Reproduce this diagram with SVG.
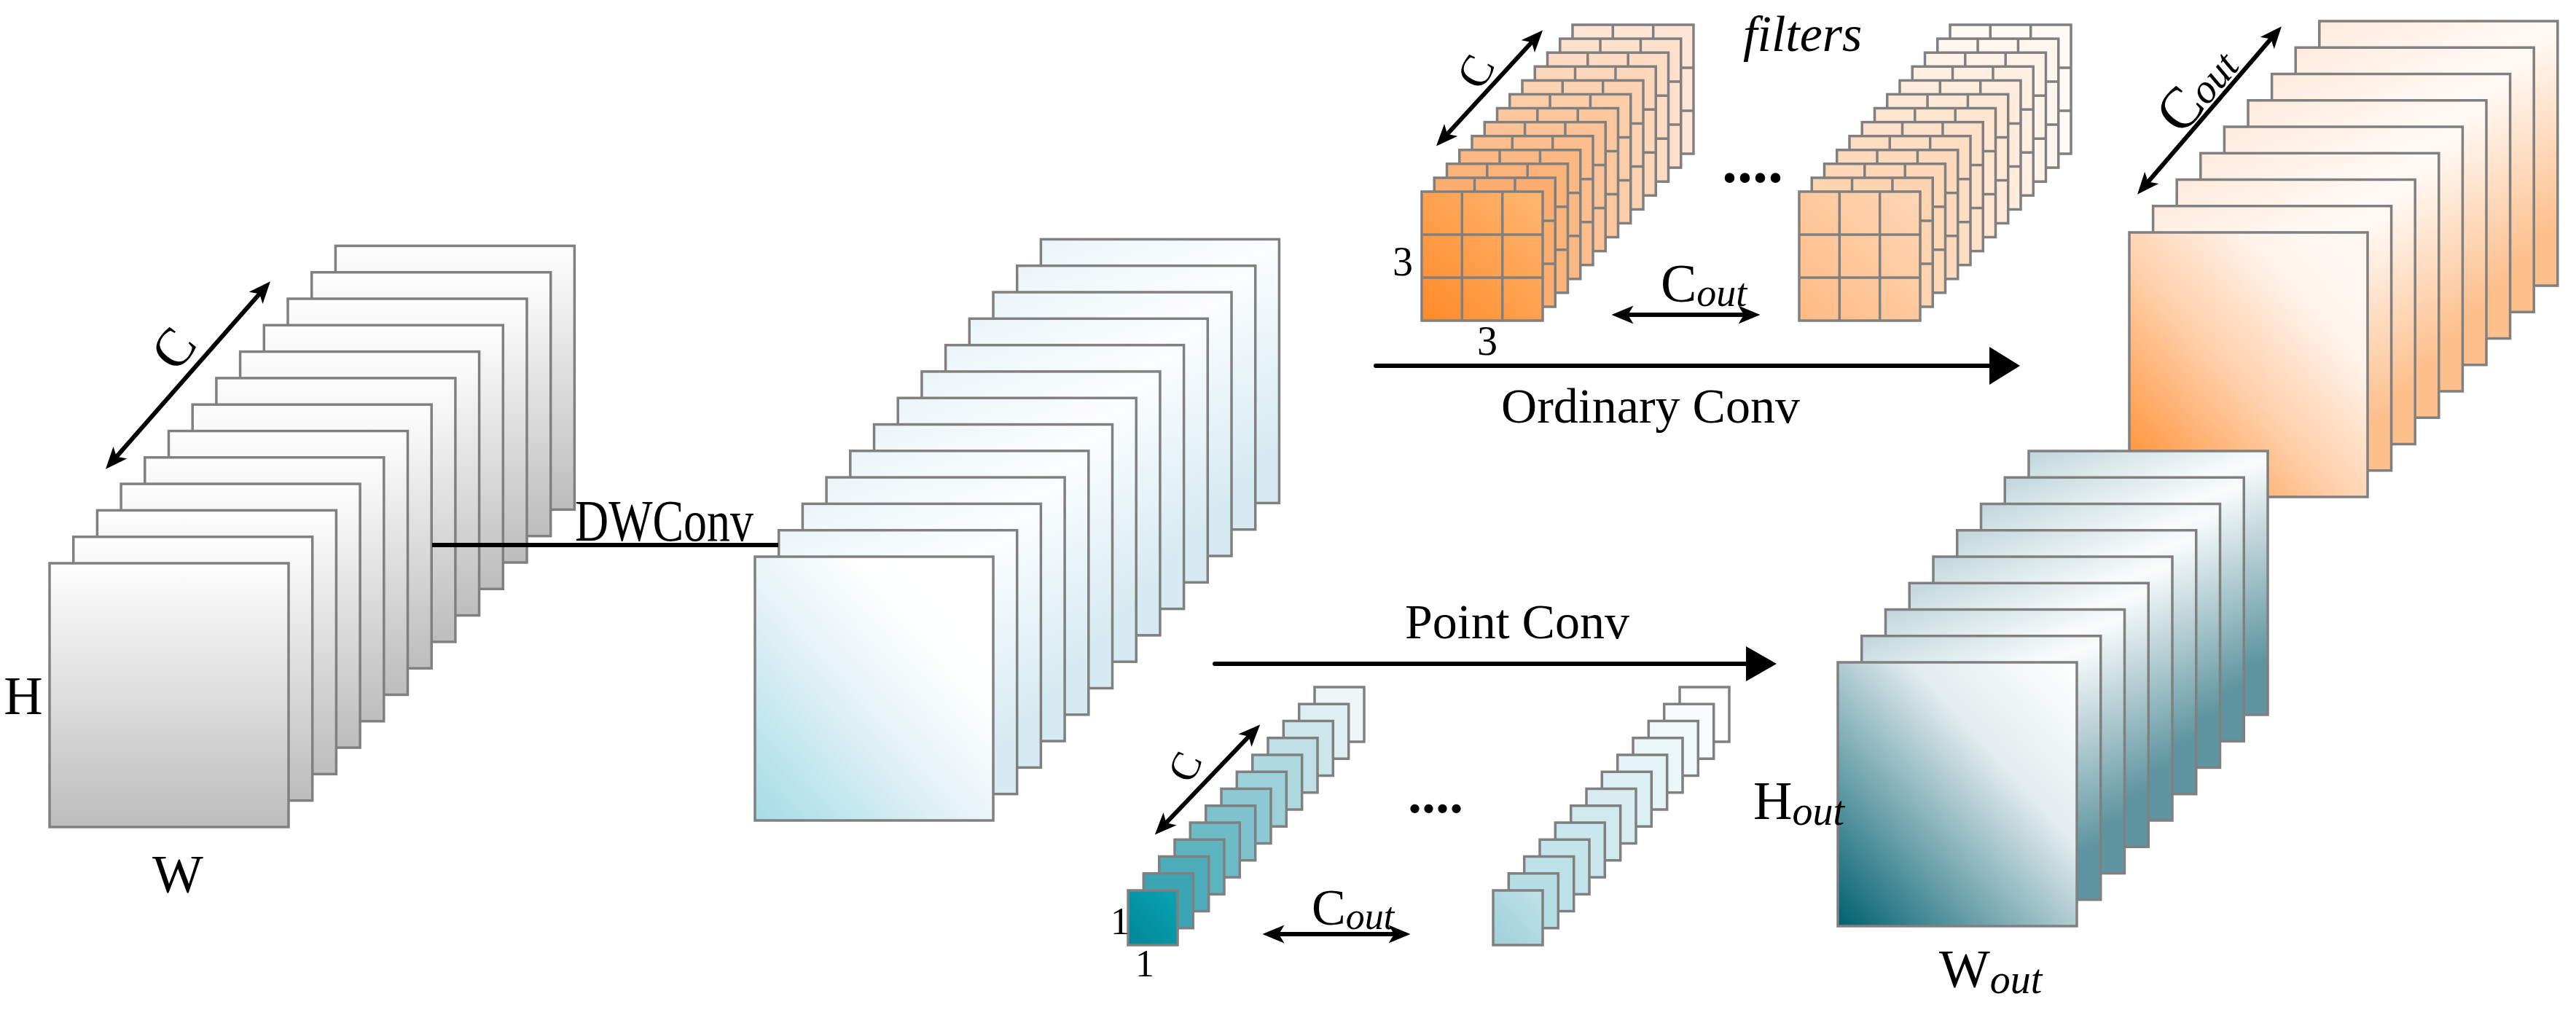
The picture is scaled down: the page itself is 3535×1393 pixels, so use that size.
<svg xmlns="http://www.w3.org/2000/svg" xmlns:xlink="http://www.w3.org/1999/xlink" width="3535" height="1393" viewBox="0 0 3535 1393">
<style>
text{font-family:"Liberation Serif","Times New Roman",serif;fill:#000}
.it{font-style:italic}
.dots{font-weight:bold}
.sh{stroke:#808080;stroke-width:3.5}
.ln{stroke:#000;stroke-width:6;fill:none}
.dbl{stroke:#000;stroke-width:6;fill:none;marker-start:url(#ah);marker-end:url(#ah)}
</style>
<defs>
<linearGradient id="gGrey" x1="0" y1="0" x2="0" y2="1"><stop offset="0" stop-color="#fefefe"/><stop offset="1" stop-color="#bdbdbd"/></linearGradient>
<linearGradient id="gBlueF" x1="0" y1="1" x2="1" y2="0"><stop offset="0" stop-color="#a4dce7"/><stop offset="0.45" stop-color="#e6f3f7"/><stop offset="0.7" stop-color="#fdfefe"/><stop offset="1" stop-color="#ffffff"/></linearGradient>
<linearGradient id="gBlueB" x1="0" y1="0" x2="0.3" y2="1"><stop offset="0" stop-color="#eaf5f8"/><stop offset="0.3" stop-color="#fbfdfe"/><stop offset="1" stop-color="#d6ebf1"/></linearGradient>
<linearGradient id="gOrF" x1="0" y1="1" x2="1" y2="0"><stop offset="0" stop-color="#ff8a28"/><stop offset="0.45" stop-color="#ffd0ab"/><stop offset="0.75" stop-color="#fff4ec"/><stop offset="1" stop-color="#fff8f2"/></linearGradient>
<linearGradient id="gOrB" x1="0" y1="0" x2="0.3" y2="1"><stop offset="0" stop-color="#feeadc"/><stop offset="0.3" stop-color="#fffaf6"/><stop offset="1" stop-color="#fdbf8c"/></linearGradient>
<linearGradient id="gTeF" x1="0" y1="1" x2="1" y2="0"><stop offset="0" stop-color="#00606e"/><stop offset="0.4" stop-color="#8db6be"/><stop offset="0.65" stop-color="#e2ecee"/><stop offset="1" stop-color="#ffffff"/></linearGradient>
<linearGradient id="gTeB" x1="0" y1="0" x2="0.3" y2="1"><stop offset="0" stop-color="#bfd6da"/><stop offset="0.3" stop-color="#fafcfc"/><stop offset="1" stop-color="#5e95a0"/></linearGradient>
<linearGradient id="gF1" x1="0" y1="1" x2="1" y2="0"><stop offset="0" stop-color="#ff8a28"/><stop offset="1" stop-color="#ffb774"/></linearGradient>
<linearGradient id="gF2" x1="0" y1="1" x2="1" y2="0"><stop offset="0" stop-color="#ffbb84"/><stop offset="1" stop-color="#ffd6b6"/></linearGradient>
<linearGradient id="gP1" x1="0" y1="1" x2="1" y2="0"><stop offset="0" stop-color="#008796"/><stop offset="1" stop-color="#0aa4b4"/></linearGradient>
<linearGradient id="gP2" x1="0" y1="1" x2="1" y2="0"><stop offset="0" stop-color="#9fd0d9"/><stop offset="1" stop-color="#c0e2e8"/></linearGradient>
<rect id="L" width="328" height="362" fill="url(#gGrey)" class="sh"/>
<rect id="MB" width="327" height="362" fill="url(#gBlueB)" class="sh"/>
<rect id="OB" width="327" height="363" fill="url(#gOrB)" class="sh"/>
<rect id="TB" width="328" height="362" fill="url(#gTeB)" class="sh"/>
<g id="FC"><rect width="166" height="177" class="sh"/><path d="M55.3,0V177M110.7,0V177M0,59H166M0,118H166" class="sh" fill="none"/></g>
<rect id="PC" width="68" height="75" class="sh"/>
<marker id="ah" viewBox="0 0 12 10" refX="9" refY="5" markerWidth="5" markerHeight="4.2" orient="auto-start-reverse" markerUnits="strokeWidth"><path d="M0,0 L12,5 L0,10 L3,5 z" fill="#000"/></marker>
</defs>
<rect width="3535" height="1393" fill="#fff"/>

<g id="input">
<use href="#L" x="460.4" y="337.4"/><use href="#L" x="427.7" y="373.7"/><use href="#L" x="395" y="410"/><use href="#L" x="362.3" y="446.3"/><use href="#L" x="329.6" y="482.6"/><use href="#L" x="296.9" y="518.9"/><use href="#L" x="264.2" y="555.2"/><use href="#L" x="231.5" y="591.5"/><use href="#L" x="198.8" y="627.8"/><use href="#L" x="166.1" y="664.1"/><use href="#L" x="133.4" y="700.4"/><use href="#L" x="100.7" y="736.7"/><use href="#L" x="68" y="773"/>
<text x="32" y="980" font-size="74" text-anchor="middle">H</text>
<text x="244" y="1225" font-size="74" text-anchor="middle">W</text>
<text x="238" y="478" font-size="74" text-anchor="middle" dominant-baseline="central" transform="rotate(-52 238 478)">C</text>
</g>

<g id="dw">
<use href="#MB" x="1428.4" y="328.4"/><use href="#MB" x="1395.7" y="364.7"/><use href="#MB" x="1363" y="401"/><use href="#MB" x="1330.3" y="437.3"/><use href="#MB" x="1297.6" y="473.6"/><use href="#MB" x="1264.9" y="509.9"/><use href="#MB" x="1232.2" y="546.2"/><use href="#MB" x="1199.5" y="582.5"/><use href="#MB" x="1166.8" y="618.8"/><use href="#MB" x="1134.1" y="655.1"/><use href="#MB" x="1101.4" y="691.4"/><use href="#MB" x="1068.7" y="727.7"/>
<rect x="1036" y="764" width="327" height="362" fill="url(#gBlueF)" class="sh"/>
</g>

<g id="filters1">
<use href="#FC" x="2158" y="34" fill="#fee6d6"/><use href="#FC" x="2140.75" y="53.1" fill="#fee1cd"/><use href="#FC" x="2123.5" y="72.2" fill="#fedcc3"/><use href="#FC" x="2106.25" y="91.3" fill="#fdd7ba"/><use href="#FC" x="2089" y="110.4" fill="#fdd2b1"/><use href="#FC" x="2071.75" y="129.4" fill="#fdcda8"/><use href="#FC" x="2054.5" y="148.5" fill="#fdc79e"/><use href="#FC" x="2037.25" y="167.6" fill="#fdc295"/><use href="#FC" x="2020" y="186.7" fill="#fdbd8c"/><use href="#FC" x="2002.75" y="205.8" fill="#fcb883"/><use href="#FC" x="1985.5" y="224.8" fill="#fcb379"/><use href="#FC" x="1968.25" y="244" fill="#fcae70"/><use href="#FC" x="1951" y="263" fill="url(#gF1)"/>
<text x="1925" y="378" font-size="56" text-anchor="middle">3</text>
<text x="2041" y="487" font-size="56" text-anchor="middle">3</text>
<text x="2025" y="98" font-size="62" text-anchor="middle" dominant-baseline="central" transform="rotate(-62 2025 98)">C</text>
</g>
<g id="filters2">
<use href="#FC" x="2676" y="34" fill="#fffaf6"/><use href="#FC" x="2658.75" y="53.1" fill="#fff6f0"/><use href="#FC" x="2641.5" y="72.2" fill="#fff3e9"/><use href="#FC" x="2624.25" y="91.3" fill="#ffefe3"/><use href="#FC" x="2607" y="110.4" fill="#ffecdc"/><use href="#FC" x="2589.75" y="129.4" fill="#ffe8d6"/><use href="#FC" x="2572.5" y="148.5" fill="#fee5d0"/><use href="#FC" x="2555.25" y="167.6" fill="#fee1c9"/><use href="#FC" x="2538" y="186.7" fill="#fedec3"/><use href="#FC" x="2520.75" y="205.8" fill="#fedabd"/><use href="#FC" x="2503.5" y="224.8" fill="#fed7b6"/><use href="#FC" x="2486.25" y="244" fill="#fed3b0"/><use href="#FC" x="2469" y="263" fill="url(#gF2)"/>
</g>
<text x="2392" y="70" font-size="70" class="it">filters</text>
<text x="2405" y="250" font-size="84" text-anchor="middle" class="dots">....</text>
<text x="2279" y="414" font-size="74">C<tspan class="it" font-size="54" dy="6">out</tspan></text>

<g id="outOrange">
<use href="#OB" x="3182.8" y="29"/><use href="#OB" x="3150.2" y="65.25"/><use href="#OB" x="3117.6" y="101.5"/><use href="#OB" x="3085" y="137.75"/><use href="#OB" x="3052.4" y="174"/><use href="#OB" x="3019.8" y="210.25"/><use href="#OB" x="2987.2" y="246.5"/><use href="#OB" x="2954.6" y="282.75"/>
<rect x="2922" y="319" width="327" height="363" fill="url(#gOrF)" class="sh"/>
<text transform="translate(3014 122) rotate(-50)" font-size="80" text-anchor="middle" dominant-baseline="central">C<tspan class="it" font-size="56" dy="8">out</tspan></text>
</g>

<g id="outTeal">
<use href="#TB" x="2784" y="619"/><use href="#TB" x="2751.25" y="655.25"/><use href="#TB" x="2718.5" y="691.5"/><use href="#TB" x="2685.75" y="727.75"/><use href="#TB" x="2653" y="764"/><use href="#TB" x="2620.25" y="800.25"/><use href="#TB" x="2587.5" y="836.5"/><use href="#TB" x="2554.75" y="872.75"/>
<rect x="2522" y="909" width="328" height="362" fill="url(#gTeF)" class="sh"/>
<text x="2406" y="1124" font-size="74">H<tspan class="it" font-size="56" dy="8">out</tspan></text>
<text x="2661" y="1355" font-size="74">W<tspan class="it" font-size="56" dy="8">out</tspan></text>
</g>

<g id="pfilters1">
<use href="#PC" x="1804" y="943" fill="#eef6f8"/><use href="#PC" x="1782.7" y="966.25" fill="#deeff2"/><use href="#PC" x="1761.3" y="989.5" fill="#cee7ec"/><use href="#PC" x="1740" y="1012.75" fill="#bee0e6"/><use href="#PC" x="1718.7" y="1036" fill="#add9df"/><use href="#PC" x="1697.3" y="1059.25" fill="#9dd1d9"/><use href="#PC" x="1676" y="1082.5" fill="#8dcad3"/><use href="#PC" x="1654.7" y="1105.75" fill="#7dc2cd"/><use href="#PC" x="1633.3" y="1129" fill="#6dbbc7"/><use href="#PC" x="1612" y="1152.25" fill="#5cb4c0"/><use href="#PC" x="1590.7" y="1175.5" fill="#4cacba"/><use href="#PC" x="1569.3" y="1198.75" fill="#3ca5b4"/><use href="#PC" x="1548" y="1222" fill="url(#gP1)"/>
<text x="1537" y="1282" font-size="52" text-anchor="middle">1</text>
<text x="1571" y="1340" font-size="52" text-anchor="middle">1</text>
<text x="1626" y="1052" font-size="56" text-anchor="middle" dominant-baseline="central" transform="rotate(-65 1626 1052)">C</text>
</g>
<g id="pfilters2">
<use href="#PC" x="2305" y="943" fill="#ffffff"/><use href="#PC" x="2283.7" y="966.25" fill="#f8fcfd"/><use href="#PC" x="2262.3" y="989.5" fill="#f2f9fa"/><use href="#PC" x="2241" y="1012.75" fill="#ebf6f8"/><use href="#PC" x="2219.7" y="1036" fill="#e4f3f5"/><use href="#PC" x="2198.3" y="1059.25" fill="#ddf0f3"/><use href="#PC" x="2177" y="1082.5" fill="#d7edf1"/><use href="#PC" x="2155.7" y="1105.75" fill="#d0eaee"/><use href="#PC" x="2134.3" y="1129" fill="#c9e7ec"/><use href="#PC" x="2113" y="1152.25" fill="#c3e4ea"/><use href="#PC" x="2091.7" y="1175.5" fill="#bce1e7"/><use href="#PC" x="2070.3" y="1198.75" fill="#b5dee5"/><use href="#PC" x="2049" y="1222" fill="url(#gP2)"/>
</g>
<text x="1970" y="1115" font-size="76" text-anchor="middle" class="dots">....</text>
<text x="1800" y="1269" font-size="70">C<tspan class="it" font-size="52" dy="6">out</tspan></text>

<g id="connectors">
<line class="ln" x1="593" y1="748" x2="1068" y2="748"/>
<text x="789" y="742" font-size="80" textLength="245" lengthAdjust="spacingAndGlyphs">DWConv</text>
<line class="ln" x1="1888" y1="502" x2="2732" y2="502" stroke-linecap="round"/>
<polygon points="2730,476 2772,502 2730,528" fill="#000"/>
<text x="2265" y="580" font-size="68" text-anchor="middle">Ordinary Conv</text>
<line class="ln" x1="1667" y1="911" x2="2398" y2="911" stroke-linecap="round"/>
<polygon points="2396,887 2438,911 2396,935" fill="#000"/>
<text x="2082" y="876" font-size="68" text-anchor="middle">Point Conv</text>
<line class="dbl" x1="150" y1="638" x2="366" y2="392"/>
<line class="dbl" x1="1976" y1="195" x2="2112" y2="47"/>
<line class="dbl" x1="2938" y1="261" x2="3126" y2="42"/>
<line class="dbl" x1="1590" y1="1140" x2="1724" y2="1000"/>
<line class="dbl" x1="2219" y1="432" x2="2408" y2="432"/>
<line class="dbl" x1="1740" y1="1282" x2="1928" y2="1282"/>
</g>
</svg>
